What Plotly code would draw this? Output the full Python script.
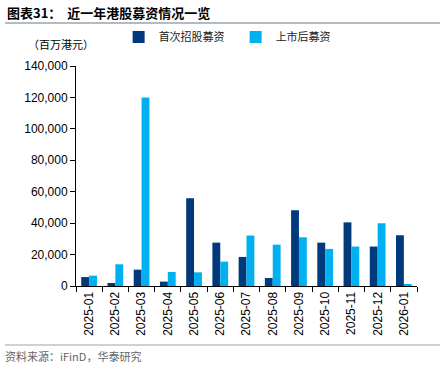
import plotly.graph_objects as go

months = ["2025-01", "2025-02", "2025-03", "2025-04", "2025-05", "2025-06", "2025-07",
          "2025-08", "2025-09", "2025-10", "2025-11", "2025-12", "2026-01"]
ipo_funds = [5700, 1900, 10400, 2800, 55800, 27600, 18500, 5100, 48200, 27600, 40500, 25100, 32300]
post_ipo_funds = [6600, 13800, 120000, 8900, 8700, 15500, 32100, 26300, 31000, 23600, 25100, 39900, 1300]
y_ticks = [0, 20000, 40000, 60000, 80000, 100000, 120000, 140000]

CJK = "Noto Sans CJK SC"
NUM = "Liberation Sans, Arial"

fig = go.Figure()
fig.add_trace(go.Bar(x=months, y=ipo_funds, name="首次招股募资", marker=dict(color="#003A7D", line=dict(width=0))))
fig.add_trace(go.Bar(x=months, y=post_ipo_funds, name="上市后募资", marker=dict(color="#00B0F0", line=dict(width=0))))

fig.update_layout(
    width=448, height=367,
    margin=dict(l=76, r=31, t=66, b=81, autoexpand=False),
    paper_bgcolor="white", plot_bgcolor="white",
    barmode="group", bargap=0.4, bargroupgap=0,
    showlegend=True,
    legend=dict(orientation="h", x=0.125, xanchor="left", yref="container", y=1 - 37 / 367,
                yanchor="middle",
                font=dict(family=CJK, size=11, color="#222"), entrywidth=72,
                itemwidth=30, bgcolor="rgba(0,0,0,0)"),
    xaxis=dict(type="category", showline=True, linecolor="black", linewidth=1, automargin=False,
               ticks="outside", ticklen=5, tickcolor="black", tickson="boundaries",
               tickangle=-90, tickfont=dict(family=NUM, size=12, color="black"),
               showgrid=False),
    yaxis=dict(range=[0, 140000], tickvals=y_ticks, tickformat=",d", showline=True, automargin=False,
               linecolor="black", linewidth=1, ticks="outside", ticklen=5, tickcolor="black",
               tickfont=dict(family=NUM, size=12, color="black"), showgrid=False, zeroline=False),
)

fig.add_annotation(text="<b>图表31：  近一年港股募资情况一览</b>", xref="paper", yref="paper",
                   x=(5 - 76) / 341, y=(286 - 13) / 220, xanchor="left", yanchor="middle",
                   showarrow=False, font=dict(family=CJK, size=13, color="black"))
fig.add_annotation(text="（百万港元）", xref="paper", yref="paper",
                   x=(26 - 76) / 341, y=(286 - 44) / 220, xanchor="left", yanchor="middle",
                   showarrow=False, font=dict(family=CJK, size=11, color="black"))
fig.add_annotation(text="资料来源：iFinD，华泰研究", xref="paper", yref="paper",
                   x=(3 - 76) / 341, y=(286 - 356) / 220, xanchor="left", yanchor="middle",
                   showarrow=False, font=dict(family=CJK, size=11, color="#666"))
fig.add_shape(type="line", xref="paper", yref="paper", x0=(5 - 76) / 341, x1=(440 - 76) / 341,
              y0=(286 - 23) / 220, y1=(286 - 23) / 220, line=dict(color="#9AA3AD", width=1.5))
fig.add_shape(type="line", xref="paper", yref="paper", x0=(5 - 76) / 341, x1=(440 - 76) / 341,
              y0=(286 - 345) / 220, y1=(286 - 345) / 220, line=dict(color="#9AA3AD", width=1))

fig.write_html("out.html", config={"displayModeBar": False},
               post_script="document.body.style.margin='0px';")
